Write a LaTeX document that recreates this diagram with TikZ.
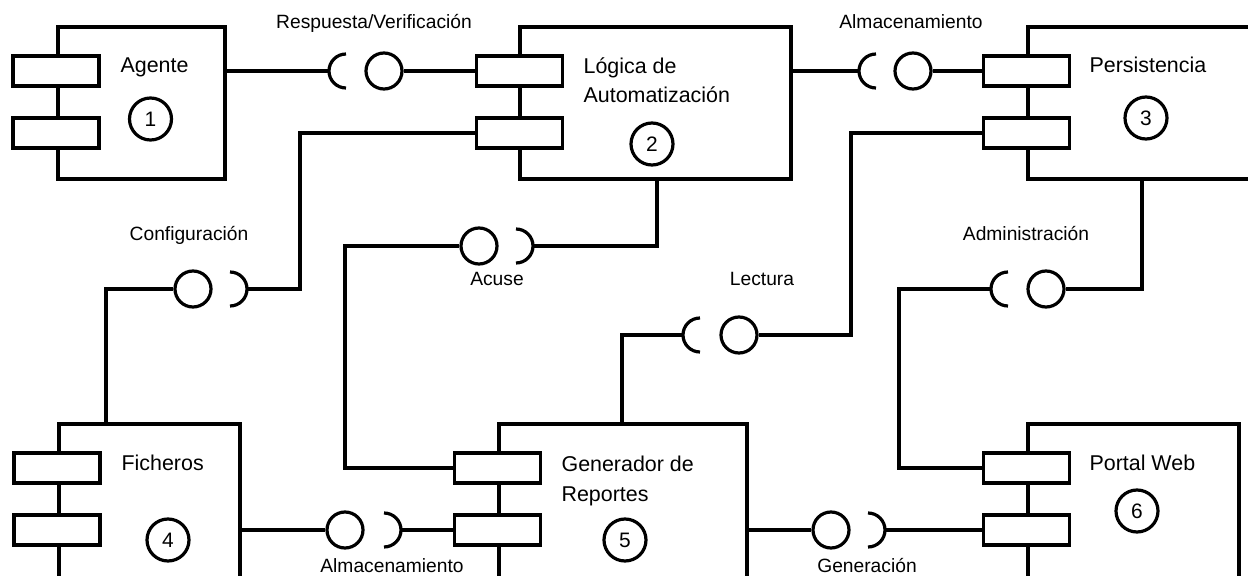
\documentclass[tikz,border=0pt]{standalone}
\usepackage{fontspec}
\setmainfont{Liberation Sans}
\begin{document}
\begin{tikzpicture}[x=1bp,y=-1bp, line width=3.2bp,
  comp/.style={draw, rectangle, inner sep=0pt},
  port/.style={draw, fill=white, rectangle, minimum width=86bp, minimum height=30bp, inner sep=0pt},
  ball/.style={draw, circle, minimum size=36bp, inner sep=0pt},
  num/.style={draw, circle, minimum size=42bp, inner sep=0pt, font=\fontsize{21}{24}\selectfont},
  cname/.style={anchor=base west, align=left, inner sep=0pt, font=\fontsize{21.5}{30}\selectfont},
  lbl/.style={anchor=base, inner sep=0pt, font=\fontsize{19.3}{23}\selectfont}]
\useasboundingbox (0,0) rectangle (1248,576);
\clip (0,0) rectangle (1248,576);
% components
\node[comp, minimum width=167bp, minimum height=152bp] (c1) at (141.5,103) {};
\node[comp, minimum width=271bp, minimum height=152bp] (c2) at (655.5,103) {};
\node[comp, minimum width=232bp, minimum height=152bp] (c3) at (1144,103) {};
\node[comp, minimum width=181bp, minimum height=176bp] (c4) at (149.5,512) {};
\node[comp, minimum width=248bp, minimum height=176bp] (c5) at (623,512) {};
\node[comp, minimum width=211bp, minimum height=176bp] (c6) at (1133.5,512) {};
% ports
\node[port] (p1a) at (56,71) {};
\node[port] (p1b) at (56,133) {};
\node[port] (p2a) at (519.5,71) {};
\node[port] (p2b) at (519.5,133) {};
\node[port] (p3a) at (1026.5,71) {};
\node[port] (p3b) at (1026.5,133) {};
\node[port] (p4a) at (57,468) {};
\node[port] (p4b) at (57,530) {};
\node[port] (p5a) at (497.5,468) {};
\node[port] (p5b) at (497.5,530) {};
\node[port] (p6a) at (1026.5,468) {};
\node[port] (p6b) at (1026.5,530) {};
% names (base = baseline of last line)
\node[cname] (n1) at (119,73) {Agente};
\node[cname] (n2) at (582,103) {Lógica de\\Automatización};
\node[cname] (n3) at (1088,73) {Persistencia};
\node[cname] (n4) at (120,470) {Ficheros};
\node[cname] (n5) at (560,501) {Generador de\\Reportes};
\node[cname] (n6) at (1088,470) {Portal Web};
% numbers
\node[num] (k1) at (150.5,119) {1};
\node[num] (k2) at (652,144) {2};
\node[num] (k3) at (1146,118) {3};
\node[num] (k4) at (168,540) {4};
\node[num] (k5) at (625,540) {5};
\node[num] (k6) at (1137,511) {6};
% interface A
\coordinate (sA) at (346,71);
\coordinate (sAo) at (329,71);
\node[ball] (bA) at (384,71) {};
\draw ([yshift=17bp]sA) arc[start angle=90,end angle=270,radius=17bp];
\draw (c1.east |- sA) -- (sAo);
\draw (bA) -- (p2a.west);
% interface B
\coordinate (sB) at (876,71);
\coordinate (sBo) at (859,71);
\node[ball] (bB) at (913,71) {};
\draw ([yshift=17bp]sB) arc[start angle=90,end angle=270,radius=17bp];
\draw (c2.east |- sB) -- (sBo);
\draw (bB) -- (p3a.west);
% interface C
\coordinate (sC) at (230,289);
\coordinate (sCo) at (247,289);
\node[ball] (bC) at (193,289) {};
\coordinate (kC1) at (300,289);
\coordinate (kC2) at (106,289);
\draw ([yshift=17bp]sC) arc[start angle=90,end angle=-90,radius=17bp];
\draw (p2b.west) -| (kC1) -- (sCo);
\draw (bC) -- (kC2) -- (kC2 |- c4.north);
% interface D
\coordinate (sD) at (516,246);
\coordinate (sDo) at (533,246);
\node[ball] (bD) at (479,246) {};
\coordinate (kD1) at (657,246);
\coordinate (kD2) at (345,246);
\draw ([yshift=17bp]sD) arc[start angle=90,end angle=-90,radius=17bp];
\draw (kD1 |- c2.south) -- (kD1) -- (sDo);
\draw (bD) -- (kD2) |- (p5a.west);
% interface E
\coordinate (sE) at (700,335);
\coordinate (sEo) at (683,335);
\node[ball] (bE) at (739,335) {};
\coordinate (kE1) at (851,335);
\coordinate (kE2) at (622,335);
\draw ([yshift=17bp]sE) arc[start angle=90,end angle=270,radius=17bp];
\draw (p3b.west) -| (kE1) -- (bE);
\draw (sEo) -- (kE2) -- (kE2 |- c5.north);
% interface F
\coordinate (sF) at (1008,289);
\coordinate (sFo) at (991,289);
\node[ball] (bF) at (1046,289) {};
\coordinate (kF1) at (1142,289);
\coordinate (kF2) at (899,289);
\draw ([yshift=17bp]sF) arc[start angle=90,end angle=270,radius=17bp];
\draw (kF1 |- c3.south) -- (kF1) -- (bF);
\draw (sFo) -- (kF2) |- (p6a.west);
% interface G
\coordinate (sG) at (384,530);
\coordinate (sGo) at (401,530);
\node[ball] (bG) at (345,530) {};
\draw ([yshift=17bp]sG) arc[start angle=90,end angle=-90,radius=17bp];
\draw (c4.east |- bG) -- (bG);
\draw (sGo) -- (p5b.west);
% interface H
\coordinate (sH) at (868,530);
\coordinate (sHo) at (885,530);
\node[ball] (bH) at (831,530) {};
\draw ([yshift=17bp]sH) arc[start angle=90,end angle=-90,radius=17bp];
\draw (c5.east |- bH) -- (bH);
\draw (sHo) -- (p6b.west);
% labels
\node[lbl] (lA) at (374,29) {Respuesta/Verificación};
\node[lbl] (lB) at (911,29) {Almacenamiento};
\node[lbl] (lC) at (189,241) {Configuración};
\node[lbl] (lD) at (497,286) {Acuse};
\node[lbl] (lE) at (762,286) {Lectura};
\node[lbl] (lF) at (1026,241) {Administración};
\node[lbl] (lG) at (392,572) {Almacenamiento};
\node[lbl] (lH) at (867,572) {Generación};
\end{tikzpicture}
\end{document}
